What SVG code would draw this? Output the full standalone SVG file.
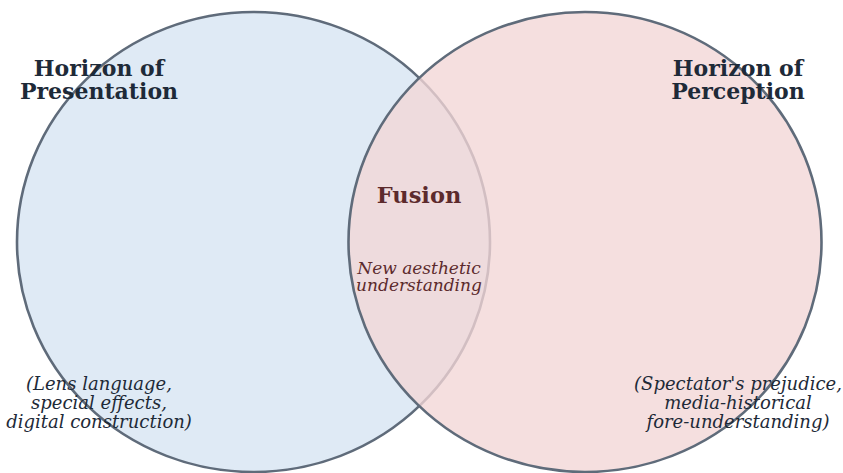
<svg xmlns="http://www.w3.org/2000/svg" width="843" height="473" viewBox="0 0 843 473">
<style>
.c{stroke:#5f6b7a;stroke-width:2.6}
.t{font-family:"DejaVu Serif",serif;font-weight:bold;font-size:22px;fill:#1e2a38;text-anchor:middle}
.s{font-family:"DejaVu Serif",serif;font-style:italic;font-size:18px;fill:#1e2a38;text-anchor:middle}
.f{font-family:"DejaVu Serif",serif;font-weight:bold;font-size:22.5px;fill:#5c2a2c;text-anchor:middle}
.fs{font-family:"DejaVu Serif",serif;font-style:italic;font-size:17px;fill:#5c2a2c;text-anchor:middle}
</style>
<rect width="843" height="473" fill="#ffffff"/>
<g id="presentation">
<ellipse class="c" cx="253.5" cy="242" rx="236.5" ry="230" fill="#dfeaf5"/>
</g>
<g id="perception">
<ellipse class="c" cx="585" cy="242" rx="236.5" ry="230" fill="#f2d6d6" fill-opacity="0.78"/>
</g>
<g id="labels-presentation">
<text class="t" x="99" y="76">Horizon of</text>
<text class="t" x="99" y="99">Presentation</text>
<text class="s" x="99" y="390">(Lens language,</text>
<text class="s" x="99" y="409">special effects,</text>
<text class="s" x="99" y="428">digital construction)</text>
</g>
<g id="labels-perception">
<text class="t" x="738" y="76">Horizon of</text>
<text class="t" x="738" y="99">Perception</text>
<text class="s" x="738" y="390">(Spectator's prejudice,</text>
<text class="s" x="738" y="409">media-historical</text>
<text class="s" x="738" y="428">fore-understanding)</text>
</g>
<g id="fusion">
<text class="f" x="419" y="203">Fusion</text>
<text class="fs" x="419" y="274">New aesthetic</text>
<text class="fs" x="419" y="291">understanding</text>
</g>
</svg>
